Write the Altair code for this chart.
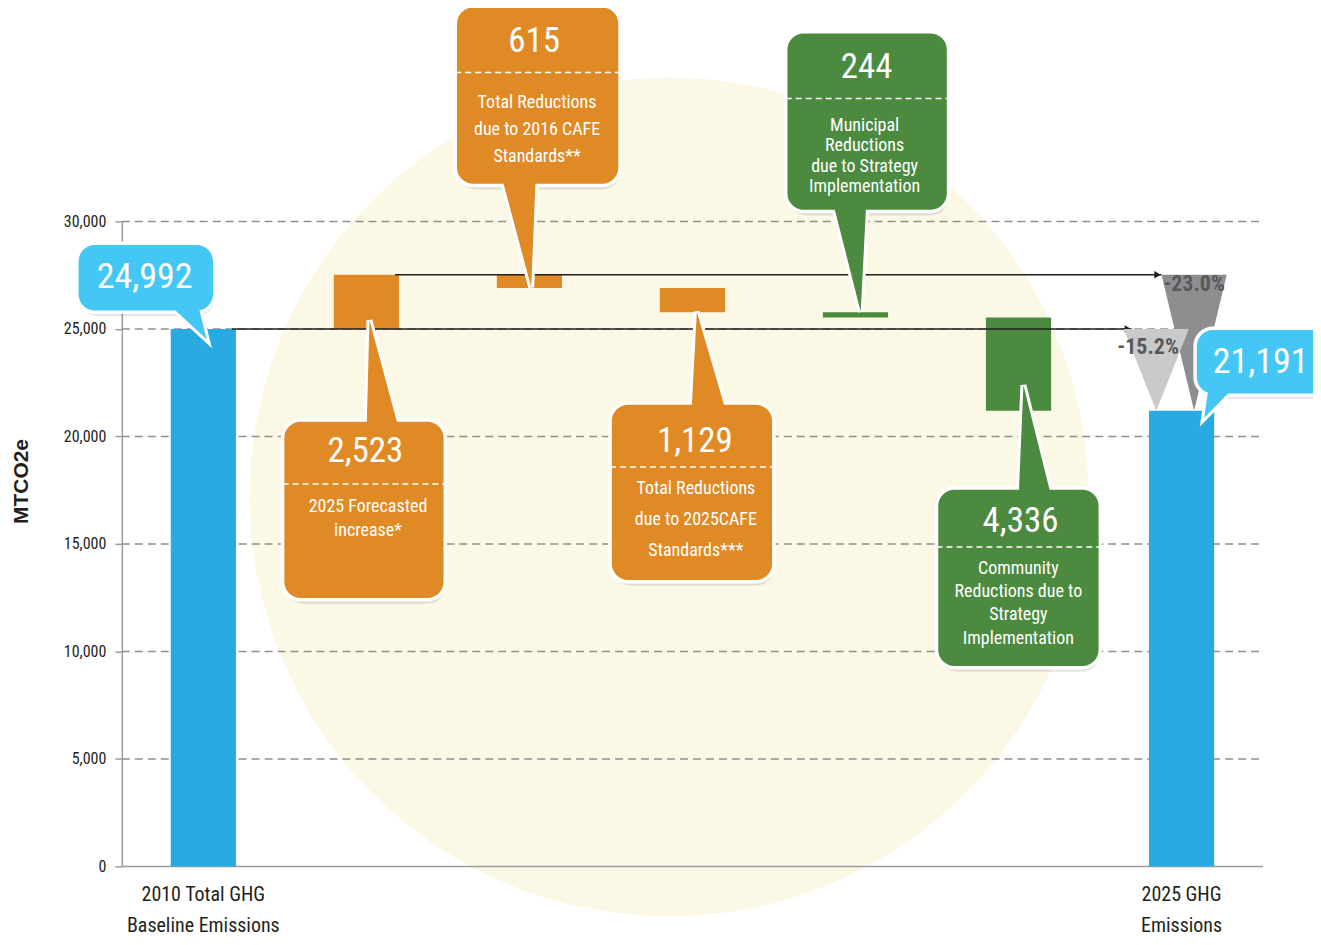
import altair as alt
import pandas as pd

# ---------------- data ----------------
steps = [
    "2010 Total GHG Baseline Emissions",
    "2025 Forecasted increase",
    "Reductions due to 2016 CAFE Standards",
    "Reductions due to 2025 CAFE Standards",
    "Municipal Reductions due to Strategy Implementation",
    "Community Reductions due to Strategy Implementation",
    "2025 GHG Emissions",
]
kinds = ["total", "delta", "delta", "delta", "delta", "delta", "total"]
values = [24992, 2523, -615, -1129, -244, -4336, 21191]
tones = ["total", "transport", "transport", "transport", "strategy", "strategy", "total"]
axis_lines = {0: ["2010 Total GHG", "Baseline Emissions"], 6: ["2025 GHG", "Emissions"]}
descriptions = {
    1: ["2025 Forecasted", "increase*"],
    2: ["Total Reductions", "due to 2016 CAFE", "Standards**"],
    3: ["Total Reductions", "due to 2025CAFE", "Standards***"],
    4: ["Municipal", "Reductions", "due to Strategy", "Implementation"],
    5: ["Community", "Reductions due to", "Strategy", "Implementation"],
}
y_ticks = [0, 5000, 10000, 15000, 20000, 25000, 30000]
y_title = "MTCO2e"

# ---------------- styles / layout ----------------
FONT = "'Liberation Sans Narrow', 'Roboto Condensed', 'DejaVu Sans Condensed', 'Arial Narrow', sans-serif"
BOLD_FONT = "'Liberation Sans', Arial, sans-serif"
BAR_COLORS = {"total": "#29abe2", "transport": "#e08a26", "strategy": "#4b8a3f"}
CALL_COLORS = {"total": "#44c7f4", "transport": "#e08a26", "strategy": "#4b8a3f"}
BAR_HALF = 0.2
GRID = "#8f8f8f"
AXIS_GREY = "#9d9d9d"
TEXT = "#231f20"

# callout layout in data units: box (x0, x1, y0, y1), pointer (base x0, base x1, base y, apex x, apex y),
# value text (x, y), separator y, description (x, first y, line step)
CALLOUTS = {
    0: dict(box=(-0.276, 0.570, 25775, 28980), ptr=(0.251, 0.459, 26400, 0.52, 24520), val=(0.14, 27400), size=36),
    1: dict(box=(0.986, 1.984, 12399, 20759), ptr=(1.500, 1.715, 19900, 1.519, 25400), val=(1.494, 19320),
            sep=17787, desc=(1.51, 16718, 1115), size=35),
    2: dict(box=(2.045, 3.056, 31672, 40031), ptr=(2.315, 2.541, 32500, 2.511, 26935), val=(2.529, 38406),
            sep=36920, desc=(2.547, 35527, 1277), size=35),
    3: dict(box=(2.995, 3.999, 13235, 21548), ptr=(3.491, 3.723, 20700, 3.527, 25800), val=(3.515, 19783),
            sep=18576, desc=(3.521, 17554, 1440), size=35),
    4: dict(box=(4.072, 5.071, 30465, 38824), ptr=(4.348, 4.569, 31300, 4.532, 25800), val=(4.569, 37199),
            sep=35712, desc=(4.556, 34458, 960), size=35),
    5: dict(box=(4.997, 6.002, 9242, 17601), ptr=(5.499, 5.714, 16800, 5.530, 22384), val=(5.512, 16068),
            sep=14861, desc=(5.499, 13839, 1084), size=35),
    6: dict(box=(6.583, 7.428, 21919, 25031), ptr=(6.675, 6.877, 22700, 6.638, 20852), val=(6.985, 23452), size=36),
}

# ---------------- derived tables ----------------
bars, levels = [], []
running = 0
for i, (k, v) in enumerate(zip(kinds, values)):
    if k == "total":
        lo, hi = 0, v
        running = v
    else:
        start = running
        running = start + v
        lo, hi = sorted((start, running))
    levels.append(running)
    bars.append(dict(i=i, step=steps[i], x0=i + 0.5 - BAR_HALF, x1=i + 0.5 + BAR_HALF,
                     lo=lo, hi=hi, fill=BAR_COLORS[tones[i]]))
bars_df = pd.DataFrame(bars)

baseline = values[0]
peak = max(levels)
final = values[-1]
last_c = len(values) - 0.5

boxes, ptrs, seps, vals, descs = [], [], [], [], []
for i, c in CALLOUTS.items():
    fill = CALL_COLORS[tones[i]]
    x0, x1, y0, y1 = c["box"]
    boxes.append(dict(cid=i, x0=x0, x1=x1, y0=y0, y1=y1, fill=fill))
    bx0, bx1, by, ax, ay = c["ptr"]
    ptrs.append(dict(cid=i, y=by, xa=bx0, xb=bx1, fill=fill))
    ptrs.append(dict(cid=i, y=ay, xa=ax, xb=ax, fill=fill))
    vals.append(dict(x=c["val"][0], y=c["val"][1], text=f"{abs(values[i]):,}", size=c["size"]))
    if "sep" in c:
        seps.append(dict(x0=x0, x1=x1, y=c["sep"]))
        dx, dy0, step = c["desc"]
        for j, line in enumerate(descriptions[i]):
            descs.append(dict(x=dx, y=dy0 - j * step, text=line))
boxes_df, ptrs_df = pd.DataFrame(boxes), pd.DataFrame(ptrs)
seps_df, vals_df, descs_df = pd.DataFrame(seps), pd.DataFrame(vals), pd.DataFrame(descs)

# percentage change funnels from a reference level down to the final total
funnels = [
    dict(fid="peak", top=peak, cx=last_c + 0.077, fill="#8e8e91", ldx=0.0, ldy=0),
    dict(fid="base", top=baseline, cx=last_c - 0.155, fill="#cacaca", ldx=-0.05, ldy=-420),
]
fun_rows, pct_rows = [], []
for f in funnels:
    fun_rows.append(dict(fid=f["fid"], y=f["top"], xa=f["cx"] - BAR_HALF, xb=f["cx"] + BAR_HALF, fill=f["fill"]))
    fun_rows.append(dict(fid=f["fid"], y=final, xa=f["cx"], xb=f["cx"], fill=f["fill"]))
    pct_rows.append(dict(fid=f["fid"], x=f["cx"] + f["ldx"], y=f["top"] + f["ldy"],
                         text=f"{(final - f['top']) / f['top'] * 100:.1f}%"))
fun_df = pd.DataFrame(fun_rows)
pct_df = pd.DataFrame(pct_rows)

arrows_df = pd.DataFrame([
    dict(x0=0.5 + 0.88 * BAR_HALF, x1=funnels[1]["cx"] - BAR_HALF + 0.05, y=baseline),
    dict(x0=1.5 + 0.88 * BAR_HALF, x1=funnels[0]["cx"] - BAR_HALF, y=peak),
])
grid_df = pd.DataFrame(dict(y=[t for t in y_ticks if t > 0], x0=0, x1=len(values)))
zero_df = pd.DataFrame(dict(y=[0], x0=[0], x1=[len(values)]))
labels_df = pd.DataFrame([dict(x=i + 0.5, y=0, text="\n".join(l)) for i, l in axis_lines.items()])
circle_df = pd.DataFrame(dict(x=[3.356], y=[17183]))

# ---------------- encodings ----------------
XS = alt.Scale(domain=[0, len(values)], nice=False, zero=False)
YS = alt.Scale(domain=[y_ticks[0], y_ticks[-1]], nice=False, zero=False)
YAXIS = alt.Axis(values=y_ticks, format=",.0f", grid=False, domainColor=AXIS_GREY, domainWidth=1.5,
                 tickColor=AXIS_GREY, tickWidth=1.5, tickSize=7, labelFont=FONT, labelFontSize=16,
                 labelColor=TEXT, labelPadding=9, title=y_title, titleFont=BOLD_FONT, titleFontSize=21,
                 titleFontWeight="bold", titleColor=TEXT, titleAngle=270, titleX=-100, titleY=260,
                 titleAlign="center", titleBaseline="middle")


def X(f):
    return alt.X(f"{f}:Q", scale=XS, axis=None)


def Y(f):
    return alt.Y(f"{f}:Q", scale=YS, axis=YAXIS)


FILL = alt.Color("fill:N", scale=None, legend=None)

circle = alt.Chart(circle_df).mark_point(shape="circle", filled=True, size=705600, color="#fcf8e6",
                                         opacity=1).encode(x=X("x"), y=Y("y"))
grid = alt.Chart(grid_df).mark_rule(color=GRID, strokeWidth=1.5, strokeDash=[8, 5]).encode(
    x=X("x0"), x2="x1", y=Y("y"))
zero = alt.Chart(zero_df).mark_rule(color=AXIS_GREY, strokeWidth=1.5).encode(x=X("x0"), x2="x1", y=Y("y"))
bar_layer = alt.Chart(bars_df).mark_rect().encode(x=X("x0"), x2="x1", y=Y("lo"), y2="hi", color=FILL)

arrow_lines = alt.Chart(arrows_df).mark_rule(color="#231f20", strokeWidth=1.5).encode(
    x=X("x0"), x2="x1", y=Y("y"))
arrow_heads = alt.Chart(arrows_df).mark_point(shape="triangle-right", filled=True, size=55, color="#231f20",
                                              opacity=1, xOffset=-4).encode(x=X("x1"), y=Y("y"))

fun_layer = alt.Chart(fun_df).mark_area(orient="horizontal", opacity=1).encode(
    y=Y("y"), x=X("xa"), x2="xb", detail="fid:N", color=FILL)
pct_layer = alt.Chart(pct_df).mark_text(font=FONT, fontSize=22, fontWeight="bold", color="#58595b",
                                        baseline="top", dy=-1).encode(x=X("x"), y=Y("y"), text="text:N")

shadow = alt.Chart(boxes_df).mark_rect(cornerRadius=18, color="black", opacity=0.10, xOffset=3, yOffset=4).encode(
    x=X("x0"), x2="x1", y=Y("y0"), y2="y1")
ptr_outline = alt.Chart(ptrs_df).mark_area(orient="horizontal", stroke="white", strokeWidth=6, opacity=1).encode(
    y=Y("y"), x=X("xa"), x2="xb", detail="cid:N", color=FILL)
box_layer = alt.Chart(boxes_df).mark_rect(cornerRadius=18, stroke="white", strokeWidth=3.5).encode(
    x=X("x0"), x2="x1", y=Y("y0"), y2="y1", color=FILL)
ptr_fill = alt.Chart(ptrs_df).mark_area(orient="horizontal", opacity=1).encode(
    y=Y("y"), x=X("xa"), x2="xb", detail="cid:N", color=FILL)
sep_layer = alt.Chart(seps_df).mark_rule(color="white", strokeWidth=1.5, strokeDash=[6, 4]).encode(
    x=X("x0"), x2="x1", y=Y("y"))
val_layer = alt.Chart(vals_df).mark_text(font=FONT, color="white", baseline="middle").encode(
    x=X("x"), y=Y("y"), text="text:N", size=alt.Size("size:Q", scale=None, legend=None))
desc_layer = alt.Chart(descs_df).mark_text(font=FONT, fontSize=18, color="white", baseline="middle").encode(
    x=X("x"), y=Y("y"), text="text:N")
cat_layer = alt.Chart(labels_df).mark_text(font=FONT, fontSize=20, color=TEXT, baseline="top", dy=19,
                                           lineBreak="\n", lineHeight=31).encode(x=X("x"), y=Y("y"), text="text:N")

chart = alt.layer(
    circle, grid, zero, bar_layer, arrow_lines, arrow_heads, fun_layer, pct_layer,
    shadow, ptr_outline, box_layer, ptr_fill, sep_layer, val_layer, desc_layer, cat_layer,
).properties(
    width=1143, height=646,
    padding={"left": 114, "top": 213, "right": 50, "bottom": 70},
    autosize=alt.AutoSizeParams(type="none"),
    background="white",
).configure_view(strokeWidth=0)

chart.save("out.html", embed_options={"renderer": "svg", "actions": False})
